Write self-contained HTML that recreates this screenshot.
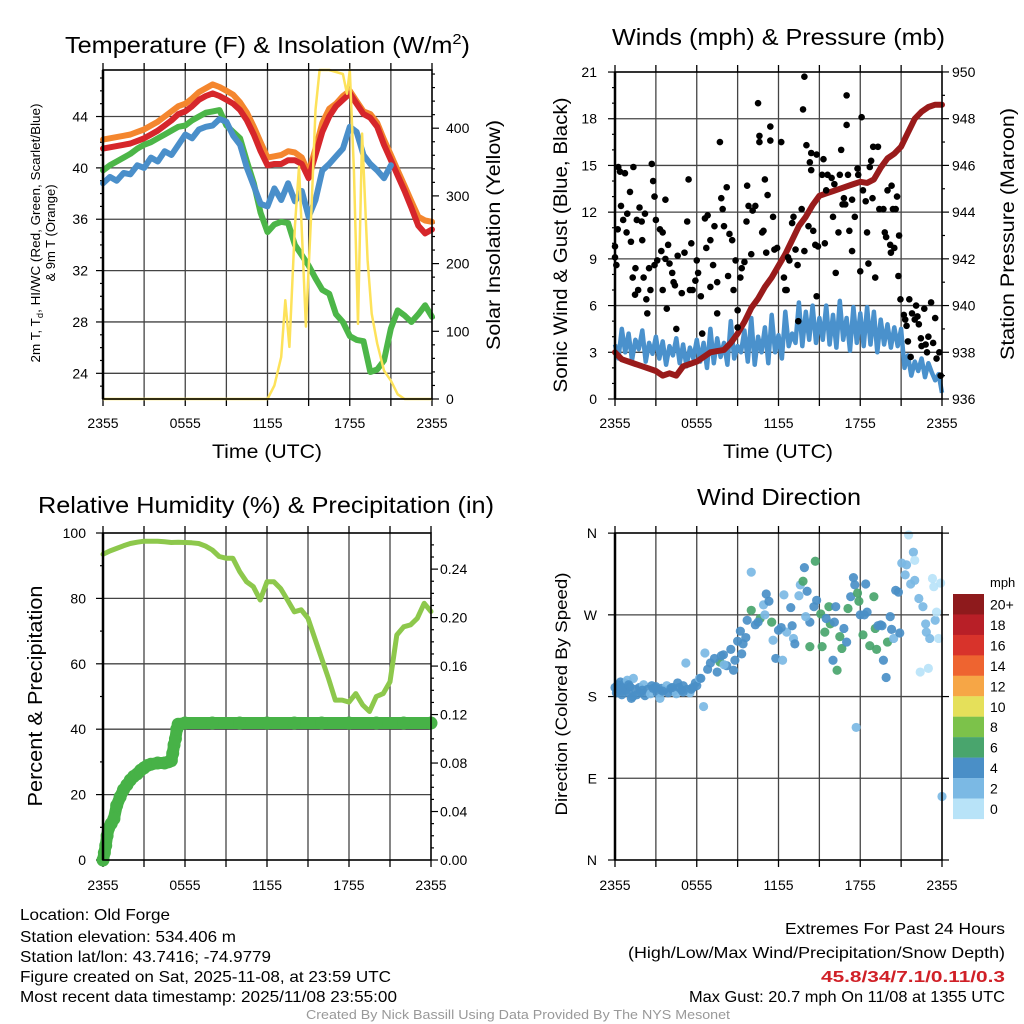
<!DOCTYPE html>
<html><head><meta charset="utf-8"><title>Old Forge Meteogram</title>
<style>
html,body{margin:0;padding:0;background:#fff;}
svg{display:block;font-family:"Liberation Sans",sans-serif;}
</style></head>
<body>
<svg id="chart" width="1024" height="1024" viewBox="0 0 1024 1024" xmlns="http://www.w3.org/2000/svg">
<rect x="0" y="0" width="1024" height="1024" fill="#fff"/>
<g id="marks"></g>
<g font-size="23" fill="#000">
<text x="65" y="53" textLength="405" lengthAdjust="spacingAndGlyphs">Temperature (F) &amp; Insolation (W/m<tspan font-size="15" dy="-9">2</tspan><tspan dy="9">)</tspan></text>
<text x="612" y="45" textLength="333" lengthAdjust="spacingAndGlyphs">Winds (mph) &amp; Pressure (mb)</text>
<text x="38" y="513" textLength="456" lengthAdjust="spacingAndGlyphs">Relative Humidity (%) &amp; Precipitation (in)</text>
<text x="697" y="505" textLength="164" lengthAdjust="spacingAndGlyphs">Wind Direction</text>
</g>
<g font-size="19" text-anchor="middle">
<text x="267" y="458" textLength="110" lengthAdjust="spacingAndGlyphs">Time (UTC)</text>
<text x="778" y="458" textLength="110" lengthAdjust="spacingAndGlyphs">Time (UTC)</text>
<text transform="translate(500,235) rotate(-90)" textLength="230" lengthAdjust="spacingAndGlyphs">Solar Insolation (Yellow)</text>
<text transform="translate(567,245) rotate(-90)" textLength="295" lengthAdjust="spacingAndGlyphs">Sonic Wind &amp; Gust (Blue, Black)</text>
<text transform="translate(1014,234) rotate(-90)" textLength="252" lengthAdjust="spacingAndGlyphs">Station Pressure (Maroon)</text>
<text transform="translate(42,696) rotate(-90)" font-size="20" textLength="221" lengthAdjust="spacingAndGlyphs">Percent &amp; Precipitation</text>
<text transform="translate(567,694) rotate(-90)" font-size="17" textLength="243" lengthAdjust="spacingAndGlyphs">Direction (Colored By Speed)</text>
</g>
<g font-size="13" text-anchor="middle">
<text transform="translate(40,233) rotate(-90)" textLength="259" lengthAdjust="spacingAndGlyphs">2m T, T<tspan font-size="9" dy="3">d</tspan><tspan dy="-3">, HI/WC (Red, Green, Scarlet/Blue)</tspan></text>
<text transform="translate(55,233) rotate(-90)">&amp; 9m T (Orange)</text>
</g>
<g id="ticklabels" font-size="14"></g>
<g font-size="13" fill="#000">
<text x="990" y="587">mph</text>
</g>
<g font-size="16" fill="#000">
<text x="20" y="920" textLength="150" lengthAdjust="spacingAndGlyphs">Location: Old Forge</text>
<text x="20" y="942" textLength="216" lengthAdjust="spacingAndGlyphs">Station elevation: 534.406 m</text>
<text x="20" y="962" textLength="251" lengthAdjust="spacingAndGlyphs">Station lat/lon: 43.7416; -74.9779</text>
<text x="20" y="982" textLength="371" lengthAdjust="spacingAndGlyphs">Figure created on Sat, 2025-11-08, at 23:59 UTC</text>
<text x="20" y="1002" textLength="377" lengthAdjust="spacingAndGlyphs">Most recent data timestamp: 2025/11/08 23:55:00</text>
<text x="785" y="934" textLength="220" lengthAdjust="spacingAndGlyphs">Extremes For Past 24 Hours</text>
<text x="628" y="958" textLength="377" lengthAdjust="spacingAndGlyphs">(High/Low/Max Wind/Precipitation/Snow Depth)</text>
<text x="821" y="982" textLength="184" lengthAdjust="spacingAndGlyphs" fill="#d02027" font-weight="bold">45.8/34/7.1/0.11/0.3</text>
<text x="689" y="1002" textLength="316" lengthAdjust="spacingAndGlyphs">Max Gust: 20.7 mph On 11/08 at 1355 UTC</text>
<text x="306" y="1019" textLength="424" lengthAdjust="spacingAndGlyphs" font-size="12.5" fill="#999">Created By Nick Bassill Using Data Provided By The NYS Mesonet</text>
</g>
</svg>
<script>
// ---------- data ----------
const halfHours = [0,0.5,1,1.5,2,2.5,3,3.5,4,4.5,5,5.5,6,6.5,7,7.5,8,8.5,9,9.5,10,10.5,11,11.5,12,12.5,13,13.5,14,14.5,15,15.5,16,16.5,17,17.5,18,18.5,19,19.5,20,20.5,21,21.5,22,22.5,23,23.5,24];
const quarterHours = [0,0.25,0.5,0.75,1,1.25,1.5,1.75,2,2.25,2.5,2.75,3,3.25,3.5,3.75,4,4.25,4.5,4.75,5,5.25,5.5,5.75,6,6.25,6.5,6.75,7,7.25,7.5,7.75,8,8.25,8.5,8.75,9,9.25,9.5,9.75,10,10.25,10.5,10.75,11,11.25,11.5,11.75,12,12.25,12.5,12.75,13,13.25,13.5,13.75,14,14.25,14.5,14.75,15,15.25,15.5,15.75,16,16.25,16.5,16.75,17,17.25,17.5,17.75,18,18.25,18.5,18.75,19,19.25,19.5,19.75,20,20.25,20.5,20.75,21,21.25,21.5,21.75,22,22.25,22.5,22.75,23,23.25,23.5,23.75,24];
const xTickLabels = ["2355","0555","1155","1755","2355"];
const xTickHours = [0,6,12,18,24];
const temp9m = [42.2,42.3,42.4,42.5,42.6,42.8,43.0,43.3,43.6,44.0,44.4,44.8,45.0,45.4,45.9,46.2,46.5,46.3,46.0,45.7,45.1,44.3,43.2,42.0,40.8,40.9,41.0,41.3,41.2,40.8,39.6,41.5,43.5,44.6,45.0,45.6,46.0,45.2,44.4,44.2,43.5,42.2,41.0,39.8,38.6,37.4,36.2,35.9,35.8];
const temp2m = [41.5,41.6,41.7,41.8,41.9,42.1,42.3,42.6,42.9,43.3,43.7,44.2,44.4,44.8,45.3,45.6,45.8,45.6,45.3,45.0,44.5,43.7,42.6,41.3,40.2,40.3,40.3,40.6,40.6,40.3,39.2,41.0,42.8,44.0,44.8,45.3,45.8,45.0,44.2,43.9,43.2,41.8,40.6,39.4,38.2,36.9,35.5,34.9,35.2];
const dewpoint = [39.8,40.2,40.5,40.8,41.1,41.5,41.8,42.0,42.3,42.6,42.9,43.2,43.3,43.7,44.0,44.3,44.4,44.5,43.3,42.8,42.3,40.5,38.8,36.5,35.0,35.6,35.8,35.7,34.0,33.2,32.4,31.4,30.5,30.2,28.6,28.0,26.9,26.6,26.5,24.1,24.3,25.0,27.5,28.9,28.5,28.0,28.6,29.3,28.4];
const windChill = [38.8,39.3,39.0,39.6,39.5,40.2,40.0,40.8,40.5,41.3,41.0,41.8,42.6,42.3,43.0,43.2,43.3,43.8,43.6,42.5,41.8,40.0,38.6,37.2,37.0,38.4,37.5,38.8,37.4,38.2,36.2,37.5,39.8,40.3,40.9,41.5,43.2,42.8,41.0,40.3,39.8,39.2,40.2,null,null,null,null,null,null];
const solarHours = [0,12,12.5,13,13.3,13.6,14,14.3,14.6,14.8,15.2,15.5,15.8,16.5,17.5,17.8,18,18.3,18.6,18.9,19.3,19.6,20,20.5,21,21.5,22,24];
const solarValues = [0,0,20,62,146,77,255,343,205,107,279,427,495,495,480,451,495,338,111,392,205,126,82,42,27,7,0,0];
const tempTicks = [24,28,32,36,40,44];
const solarTicks = [0,100,200,300,400];

const sustainedWind = [3.5,2.6,4.5,3.0,4.2,2.5,3.8,3.2,4.4,2.4,3.6,2.9,4.0,
2.6,3.7,2.2,3.4,2.8,3.9,2.3,3.5,2.1,3.3,2.6,3.8,
2.4,3.6,2.0,4.5,2.3,3.9,2.7,3.6,2.2,5.0,2.6,3.4,
3.0,4.4,2.4,5.2,2.2,4.0,3.0,4.6,2.3,5.4,3.0,4.1,
2.6,5.6,3.4,4.2,3.6,6.2,3.4,5.6,3.8,6.0,3.6,5.2,
3.8,6.0,3.5,5.4,3.3,6.3,3.8,5.2,3.1,5.9,3.6,5.5,
3.4,5.9,3.5,5.6,3.0,5.1,3.5,4.8,3.3,4.6,3.4,4.5,
2.0,2.8,1.5,2.4,1.8,2.6,1.4,2.3,1.7,1.2,1.6,0.4];
const pressure = [938.0,937.7,937.6,937.5,937.4,937.3,937.2,937.0,937.1,937.0,937.4,937.5,937.6,937.8,938.0,938.05,938.1,938.4,938.8,939.3,939.9,940.3,940.8,941.2,941.7,942.2,942.8,943.4,943.8,944.3,944.7,944.8,944.9,945.0,945.1,945.2,945.3,945.25,945.4,945.9,946.3,946.5,946.8,947.4,948.0,948.3,948.5,948.6,948.6];
const gustHours = [0.24,0.37,0.73,0.44,0.2,0,0,0.1,0.6,0.9,1.1,0.85,1.35,1.17,1.6,1.8,1.96,2.0,2.2,1.3,1.5,1.47,1.7,2.1,2.3,2.37,2.5,2.6,2.7,2.8,2.9,3.0,2.9,3.1,3.3,3.4,3.5,3.5,3.7,3.8,3.9,3.7,4.0,4.2,4.3,4.4,4.5,4.6,4.9,5.1,5.3,5.4,5.5,5.6,5.7,5.9,6.0,6.1,6.3,6.4,6.6,6.7,6.8,7.0,7.0,7.2,7.3,7.5,7.5,7.7,7.8,7.9,8.0,8.2,8.3,8.4,8.6,8.7,8.85,9.0,9.0,9.2,9.3,9.5,9.65,9.7,9.8,10.0,10.1,10.3,10.5,10.6,10.6,10.8,10.9,11.0,11.1,11.2,11.4,11.4,11.6,11.7,11.9,12.2,12.4,12.5,12.6,12.7,12.8,13.0,13.1,13.25,13.4,13.45,13.7,13.8,13.9,13.9,14.05,14.2,14.3,14.4,14.4,14.55,14.7,14.8,14.8,14.9,15.2,15.3,15.4,15.5,15.6,15.9,16.0,16.1,16.2,16.4,16.5,16.6,16.7,16.8,16.9,17.0,17.0,17.1,17.2,17.4,17.4,17.6,17.8,17.85,18.0,18.1,18.2,18.4,18.5,18.6,18.7,18.8,18.9,18.95,19.1,19.3,19.4,19.7,19.8,19.9,20.0,20.2,20.25,20.3,20.4,20.5,20.6,20.7,20.8,20.85,20.95,21.2,21.3,21.4,21.5,21.6,21.7,21.8,22.0,22.1,22.2,22.3,22.45,22.5,22.7,22.8,22.9,23.0,23.2,23.35,23.5,23.6,23.8,23.9];
const gustValues = [14.9,14.6,14.5,12.4,10.9,9.8,9.1,8.6,11.5,11.9,13.3,10.7,14.9,10.1,11.5,12.3,11.4,10.2,11.9,7.8,8.4,6.7,7.0,7.8,6.4,5.5,8.4,7.0,15.1,14.0,13.0,11.5,8.6,8.9,10.9,9.5,10.7,7.0,12.8,5.8,9.9,9.0,8.7,8.1,7.5,7.3,4.5,9.2,6.8,9.4,11.4,14.1,7.0,10.0,7.0,7.6,8.9,8.1,6.6,4.2,11.6,9.7,11.8,7.2,10.2,8.6,11.1,5.5,7.5,16.5,12.9,12.2,11.1,13.6,7.9,10.6,10.2,7.0,8.9,5.7,4.6,7.8,8.4,8.8,11.4,13.7,12.4,9.3,12.1,12.4,19.0,16.5,16.9,10.7,10.8,14.1,9.4,13.1,17.5,16.6,11.7,9.6,9.7,16.5,7.8,7.0,7.0,9.1,8.9,11.3,11.7,9.6,8.6,5.0,12.2,18.6,9.5,20.7,16.3,11.1,15.2,15.8,14.7,10.8,9.9,15.7,6.6,9.8,14.4,15.4,10.0,13.4,14.4,14.2,11.7,13.8,8.1,10.7,14.4,16.0,12.5,12.9,12.5,19.5,17.6,14.4,10.8,12.8,9.5,11.7,14.8,14.4,8.2,18.1,13.4,12.7,10.7,8.7,14.9,15.3,12.9,16.2,7.8,16.2,12.2,12.2,10.7,10.4,13.4,9.9,9.4,13.7,12.2,9.7,12.2,13.0,7.9,10.5,6.4,5.4,5.1,4.7,3.7,6.4,2.7,5.5,5.1,6.0,5.3,4.8,3.9,3.4,5.8,3.5,3.0,4.0,6.2,3.6,5.2,2.6,3.0,1.5];
const windTicks = [0,3,6,9,12,15,18,21];
const pressureTicks = [936,938,940,942,944,946,948,950];

const humidity = [93.5,94.5,95.3,96.1,96.8,97.2,97.5,97.5,97.5,97.3,97.1,97.2,97.1,97.0,96.8,96.0,94.8,92.8,92.3,92.3,88.2,85.1,83.6,79.5,85.1,85.1,83.0,79.5,75.9,76.5,73.9,67.8,61.6,55.5,48.9,48.9,48.3,50.9,47.4,45.4,50.0,50.9,54.5,68.8,71.3,71.9,73.9,78.5,76.0];
const precipHours = [0,0.1,0.2,0.3,0.4,0.6,0.8,1.0,1.25,1.5,1.75,2.0,2.25,2.5,2.75,3.0,3.25,3.5,4.0,4.5,4.8,5.0,5.1,5.2,5.3,5.4,5.5,6,8,10,12,14,16,18,20,22,24];
const precipValues = [0,0.006,0.012,0.02,0.026,0.03,0.034,0.045,0.052,0.058,0.062,0.066,0.069,0.071,0.074,0.076,0.078,0.079,0.080,0.080,0.081,0.082,0.088,0.095,0.100,0.108,0.112,0.113,0.113,0.113,0.113,0.113,0.113,0.113,0.113,0.113,0.113];
const humidityTicks = [0,20,40,60,80,100];
const precipTicks = [0,0.04,0.08,0.12,0.16,0.20,0.24];
const precipTickLabels = ["0.00","0.04","0.08","0.12","0.16","0.20","0.24"];

const dirHours = [0.0,0.1,0.2,0.3,0.4,0.5,0.6,0.7,0.8,0.9,1.0,1.1,1.2,1.35,1.5,1.6,1.8,1.9,2.1,2.2,2.4,2.6,2.8,3.0,3.1,3.3,3.4,3.6,3.8,3.9,4.1,4.3,4.5,4.7,4.9,5.0,5.2,5.3,5.5,5.7,5.9,6.0,6.2,6.5,6.6,7.0,7.5,7.7,7.96,8.2,8.7,8.8,9.2,9.3,9.4,9.7,10.0,10.0,10.3,10.65,10.9,11.1,11.3,11.5,11.6,11.8,12.3,12.0,12.4,12.6,12.9,13.1,13.2,13.5,13.6,13.8,13.9,14.1,14.3,14.3,14.6,14.7,14.8,15.1,15.2,15.4,15.7,15.8,16.0,16.2,16.3,16.5,16.65,16.8,17.0,17.1,17.3,17.5,17.6,17.7,17.8,17.9,18.0,18.2,18.4,18.5,18.7,19.0,19.1,19.2,19.5,19.6,19.7,19.9,20.0,20.2,20.45,20.6,20.8,20.9,21.05,21.3,21.4,21.55,21.7,21.9,22.0,22.0,22.3,22.4,22.6,22.8,22.85,23.0,23.1,23.3,23.4,23.5,23.6,23.75,23.9,24.0,9.0,10.5,11.0,12.2,13.0,14.0,15.5,16.1,18.3,19.3,20.3,8.0,7.3,6.8,0.5,1.3,2.0,2.7,3.5,4.2,5.0,5.6,1.0,3.0,4.6,6.3,7.8,8.5,9.6];
const dirDegrees = [190,184,193,188,196,182,190,195,187,198,184,191,178,200,188,182,190,185,193,181,188,183,189,191,184,178,189,187,192,184,189,186,183,190,187,192,217,188,184,190,195,192,200,169,228,217,207,218,226,214,209,220,252,227,238,264,317,275,259,266,281,293,285,262,242,222,220,253,292,251,278,244,238,291,303,307,322,296,262,235,279,329,286,271,235,251,279,260,220,279,209,246,233,255,240,277,290,311,303,146,294,285,270,248,304,273,236,290,255,232,259,258,220,201,240,268,244,297,295,250,327,314,325,358,304,339,330,308,288,207,279,260,251,211,244,310,301,264,273,244,305,70,241,262,270,256,258,268,266,262,270,258,254,215,222,210,186,180,187,192,186,190,185,188,193,189,195,200,225,232,245];
const dirSpeeds = [4,4,4,5,4,4,4,5,4,3,4,4,5,3,4,4,5,4,3,4,4,3,4,4,5,3,4,4,3,5,4,4,3,5,4,5,3,4,3,5,4,4,3,3,3,5,5,6,5,5,4,5,5,4,5,5,3,6,5,6,3,5,4,6,3,5,3,4,3,3,5,3,4,3,3,6,5,4,5,6,4,6,5,6,6,6,6,6,4,5,6,6,6,4,5,6,5,5,4,3,6,6,5,6,5,4,6,6,6,6,5,4,4,5,6,5,3,4,5,4,3,3,3,1,3,3,1,3,3,1,3,3,3,1,3,1,1,3,1,1,1,3,5,4,3,4,5,3,4,5,4,5,4,3,5,4,5,4,5,4,5,4,5,4,5,4,5,5,4,5,4];
const dirTickLabels = ["N","E","S","W","N"];
const dirTickValues = [0,90,180,270,360];
const speedBinLabels = ["20+","18","16","14","12","10","8","6","4","2","0"];
const speedBinColors = ["#8e1a1c","#b81f27","#d8332b","#ee6430","#f6a646","#e5e05a","#7cc24a","#49a56d","#4a8fc7","#7bb9e4","#b8e3f8"];

// ---------- axes ----------
const P1 = {x0:103,x1:432,y0:399,y1:70};
const P2 = {x0:615,x1:942,y0:399,y1:72};
const P3 = {x0:103,x1:431,y0:860,y1:533};
const P4 = {x0:615,x1:942,y0:860,y1:533};
const tx = (P,t) => P.x0 + t/24*(P.x1-P.x0);
const yTemp = v => 399 - (v-22)*12.84;
const ySolar = w => Math.max(P1.y1, 399 - w*0.677);
const yWind = v => 399 - v*15.57;
const yPres = p => 399 - (p-936)*23.36;
const yRH = v => 860 - v*3.27;
const yPrecip = p => 860 - p*1212;
const yDir = d => 860 - d*0.908;

const NS = "http://www.w3.org/2000/svg";
const marks = document.getElementById('marks');
const tl = document.getElementById('ticklabels');
function mk(tag, attrs, parent){
  const e = document.createElementNS(NS, tag);
  for (const k in attrs) e.setAttribute(k, attrs[k]);
  (parent||marks).appendChild(e);
  return e;
}
function pathFrom(ts, vs, fx, fy){
  let d = "", pen = false;
  for (let i=0;i<ts.length;i++){
    if (vs[i]===null){ pen=false; continue; }
    d += (pen?"L":"M") + fx(ts[i]).toFixed(1) + "," + fy(vs[i]).toFixed(1);
    pen = true;
  }
  return d;
}

function grid(P, hLines, fy, name){
  for (let h=3; h<24; h+=3){
    const g = mk('line',{x1:tx(P,h),x2:tx(P,h),y1:P.y0,y2:P.y1,stroke:'#444','stroke-width':1.3});
    
    
  }
  for (const v of hLines){
    const g = mk('line',{x1:P.x0,x2:P.x1,y1:fy(v),y2:fy(v),stroke:'#444','stroke-width':1.3});
    
    
  }
  for (let h=0; h<=24; h+=3){
    const t1 = mk('line',{x1:tx(P,h),x2:tx(P,h),y1:P.y0,y2:P.y0+7,stroke:'#000','stroke-width':1.3});
    
    
    const t2 = mk('line',{x1:tx(P,h),x2:tx(P,h),y1:P.y1,y2:P.y1-7,stroke:'#000','stroke-width':1.3});
    
    
  }
}
function frame(P, name){
  const f = mk('rect',{x:P.x0,y:P.y1,width:P.x1-P.x0,height:P.y0-P.y1,fill:'none',stroke:'#000','stroke-width':1.6});
  
  
  const l = mk('line',{x1:P.x0,x2:P.x0,y1:P.y1,y2:P.y0,stroke:'#000','stroke-width':2.5});
  
  
}
function yTicks(P, vals, fy, side, len, name){
  for (const v of vals){
    const x = side==='l'?P.x0:P.x1;
    const t = mk('line',{x1:x,x2:side==='l'?x-len:x+len,y1:fy(v),y2:fy(v),stroke:'#000','stroke-width':1.2});
    
    
  }
}
function label(x,y,txt,anchor,name){
  const t = mk('text',{x:x,y:y,'text-anchor':anchor},tl);
  t.textContent = txt;
  
  
}

grid(P1, tempTicks, yTemp, 'temp');
grid(P2, [3,6,9,12,15,18], yWind, 'wind');
grid(P3, [20,40,60,80], yRH, 'humidity');
grid(P4, [90,180,270], yDir, 'direction');

yTicks(P1, tempTicks, yTemp, 'l', 7, 'temp-y-tick');
yTicks(P1, [23,25,26,27,29,30,31,33,34,35,37,38,39,41,42,43,45,46,47], yTemp, 'l', 3, 'temp-y-minor-tick');
yTicks(P1, solarTicks, ySolar, 'r', 7, 'solar-y-tick');
yTicks(P1, [20,40,60,80,120,140,160,180,220,240,260,280,320,340,360,380,420,440,460,480], ySolar, 'r', 3, 'solar-y-minor-tick');
yTicks(P2, windTicks, yWind, 'l', 7, 'wind-y-tick');
yTicks(P2, [1,2,4,5,7,8,10,11,13,14,16,17,19,20], yWind, 'l', 3, 'wind-y-minor-tick');
yTicks(P2, pressureTicks, yPres, 'r', 7, 'pressure-y-tick');
yTicks(P2, [937,939,941,943,945,947,949], yPres, 'r', 3, 'pressure-y-minor-tick');
yTicks(P3, humidityTicks, yRH, 'l', 7, 'humidity-y-tick');
yTicks(P3, [10,30,50,70,90], yRH, 'l', 3, 'humidity-y-minor-tick');
yTicks(P3, precipTicks, yPrecip, 'r', 7, 'precip-y-tick');
yTicks(P3, [0.01,0.02,0.03,0.05,0.06,0.07,0.09,0.10,0.11,0.13,0.14,0.15,0.17,0.18,0.19,0.21,0.22,0.23,0.25,0.26], yPrecip, 'r', 3, 'precip-y-minor-tick');
yTicks(P4, dirTickValues, yDir, 'l', 7, 'direction-y-tick');
yTicks(P4, dirTickValues, yDir, 'r', 7, 'direction-right-tick');

for (let i=0;i<xTickHours.length;i++){
  label(tx(P1,xTickHours[i]), 428, xTickLabels[i], 'middle', 'temp-x-tick-label');
  label(tx(P2,xTickHours[i]), 428, xTickLabels[i], 'middle', 'wind-x-tick-label');
  label(tx(P3,xTickHours[i]), 890, xTickLabels[i], 'middle', 'humidity-x-tick-label');
  label(tx(P4,xTickHours[i]), 890, xTickLabels[i], 'middle', 'direction-x-tick-label');
}
for (const v of tempTicks) label(88, yTemp(v)+5, String(v), 'end', 'temp-y-tick-label');
for (const v of solarTicks) label(446, ySolar(v)+5, String(v), 'start', 'solar-y-tick-label');
for (const v of windTicks) label(597, yWind(v)+5, String(v), 'end', 'wind-y-tick-label');
for (const v of pressureTicks) label(952, yPres(v)+5, String(v), 'start', 'pressure-y-tick-label');
for (const v of humidityTicks) label(86, yRH(v)+5, String(v), 'end', 'humidity-y-tick-label');
for (let i=0;i<precipTicks.length;i++) label(440, yPrecip(precipTicks[i])+5, precipTickLabels[i], 'start', 'precip-y-tick-label');
for (let i=0;i<dirTickValues.length;i++) label(597, yDir(dirTickValues[i])+5, dirTickLabels[i], 'end', 'direction-y-tick-label');

// ---------- temperature panel ----------
const fx1 = t => tx(P1,t);
const series1 = [[temp9m,'#f4862e','temp-9m-line'],[temp2m,'#d6262b','temp-2m-line'],[dewpoint,'#4cb648','dewpoint-line'],[windChill,'#4a8fca','wind-chill-line']];
for (const s of series1){
  const p = mk('path',{d:pathFrom(halfHours,s[0],fx1,yTemp),fill:'none',stroke:s[1],'stroke-width':6,'stroke-linejoin':'round','stroke-linecap':'round'});
  
  
}
const solarLine = mk('path',{d:pathFrom(solarHours,solarValues,fx1,ySolar),fill:'none',stroke:'#fde25a','stroke-width':2.5,'stroke-linejoin':'round'});



// ---------- wind panel ----------
const fx2 = t => tx(P2,t);
const windLine = mk('path',{d:pathFrom(quarterHours,sustainedWind,fx2,yWind),fill:'none',stroke:'#4a91cc','stroke-width':4.5,'stroke-linejoin':'round'});


const presLine = mk('path',{d:pathFrom(halfHours,pressure,fx2,yPres),fill:'none',stroke:'#991b1b','stroke-width':6,'stroke-linejoin':'round','stroke-linecap':'round'});


for (let i=0;i<gustHours.length;i++){
  const c = mk('circle',{cx:fx2(gustHours[i]),cy:yWind(gustValues[i]),r:3.3,fill:'#000'});
  
  
}

// ---------- humidity panel ----------
const fx3 = t => tx(P3,t);
const rhLine = mk('path',{d:pathFrom(halfHours,humidity,fx3,yRH),fill:'none',stroke:'#8dc84c','stroke-width':5,'stroke-linejoin':'round','stroke-linecap':'round'});


const prLine = mk('path',{d:pathFrom(precipHours,precipValues,fx3,yPrecip),fill:'none',stroke:'#47b247','stroke-width':12,'stroke-linejoin':'round','stroke-linecap':'round'});


for (let i=0;i<precipHours.length;i++){
  const c = mk('circle',{cx:fx3(precipHours[i]),cy:yPrecip(precipValues[i]),r:6.5,fill:'#47b247'});
  
  
}

// ---------- direction panel ----------
const fx4 = t => tx(P4,t);
function speedColor(s){
  let idx = 10 - Math.min(10, Math.floor(s/2));
  return speedBinColors[idx];
}
for (let i=0;i<dirHours.length;i++){
  const c = mk('circle',{cx:fx4(dirHours[i]),cy:yDir(dirDegrees[i]),r:4.6,fill:speedColor(dirSpeeds[i]),'fill-opacity':0.92});
  
  
}

frame(P1,'temp'); frame(P2,'wind'); frame(P3,'humidity'); frame(P4,'direction');

for (let i=0;i<speedBinColors.length;i++){
  const r = mk('rect',{x:953,y:594+i*20.45,width:31,height:20.6,fill:speedBinColors[i]});
  
  
  label(990, 594+i*20.45+15.5, speedBinLabels[i], 'start', 'colorbar-label');
}
</script>
</body></html>
